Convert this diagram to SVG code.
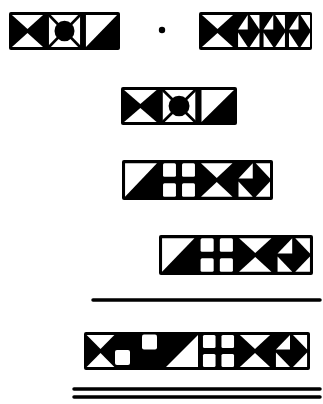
<svg xmlns="http://www.w3.org/2000/svg" xmlns:xlink="http://www.w3.org/1999/xlink" width="323" height="404" viewBox="0 0 323 404">
<style>
.box{fill:#000;}
.w{fill:#fff;}
.rule{stroke:#000;stroke-width:3.5;stroke-linecap:round;}
</style>
<defs>
<symbol id="cx" viewBox="0 0 100 100" preserveAspectRatio="none">
<polygon class="w" points="8,8 92,8 50,45"/>
<polygon class="w" points="8,92 92,92 50,55"/>
</symbol>
<symbol id="co" viewBox="0 0 100 100" preserveAspectRatio="none">
<rect class="w" x="8" y="8" width="84" height="84" rx="3"/>
<path d="M8,8 L92,92 M92,8 L8,92" stroke="#000" stroke-width="7"/>
<circle cx="50" cy="50" r="27" fill="#000"/>
</symbol>
<symbol id="cd" viewBox="0 0 100 100" preserveAspectRatio="none">
<polygon class="w" points="8,8 92,8 8,92"/>
</symbol>
<symbol id="cp" viewBox="0 0 100 100" preserveAspectRatio="none">
<rect class="w" x="8" y="8" width="34" height="34" rx="4"/>
<rect class="w" x="58" y="8" width="34" height="34" rx="4"/>
<rect class="w" x="8" y="58" width="34" height="34" rx="4"/>
<rect class="w" x="58" y="58" width="34" height="34" rx="4"/>
</symbol>
<symbol id="ct" viewBox="0 0 100 100" preserveAspectRatio="none">
<polygon class="w" points="8,46 46,8 46,46"/>
<polygon class="w" points="54,8 92,8 92,46"/>
<polygon class="w" points="8,54 8,92 46,92"/>
<polygon class="w" points="54,92 92,54 92,92"/>
</symbol>
</defs>

<g id="box-a">
<rect class="box" x="9" y="12" width="111" height="38" rx="2"/>
<use xlink:href="#cx" x="9" y="12" width="37" height="38"/>
<use xlink:href="#co" x="46" y="12" width="37" height="38"/>
<use xlink:href="#cd" x="83" y="12" width="37" height="38"/>
</g>

<g id="dot">
<circle cx="162" cy="30" r="3.2" fill="#000"/>
</g>

<g id="box-b">
<rect class="box" x="199" y="12" width="113" height="38" rx="2"/>
<use xlink:href="#cx" x="199" y="12" width="37" height="38"/>
<use xlink:href="#ct" x="236" y="12" width="25.5" height="38"/>
<use xlink:href="#ct" x="261.5" y="12" width="25.5" height="38"/>
<use xlink:href="#ct" x="287" y="12" width="25" height="38"/>
</g>

<g id="box-c">
<rect class="box" x="121" y="87" width="116" height="38" rx="2"/>
<use xlink:href="#cx" x="121" y="87" width="38.7" height="38"/>
<use xlink:href="#co" x="159.7" y="87" width="38.7" height="38"/>
<use xlink:href="#cd" x="198.4" y="87" width="38.6" height="38"/>
</g>

<g id="box-d">
<rect class="box" x="122" y="160" width="151" height="40" rx="2"/>
<use xlink:href="#cd" x="122" y="160" width="38" height="40"/>
<use xlink:href="#cp" x="160" y="160" width="38" height="40"/>
<use xlink:href="#cx" x="198" y="160" width="37.5" height="40"/>
<use xlink:href="#ct" x="235.5" y="160" width="37.5" height="40"/>
</g>

<g id="box-e">
<rect class="box" x="159" y="235" width="154" height="40" rx="2"/>
<use xlink:href="#cd" x="159" y="235" width="38.5" height="40"/>
<use xlink:href="#cp" x="197.5" y="235" width="38.5" height="40"/>
<use xlink:href="#cx" x="236" y="235" width="38.5" height="40"/>
<use xlink:href="#ct" x="274.5" y="235" width="38.5" height="40"/>
</g>

<g id="rules">
<line class="rule" x1="93" y1="300" x2="320" y2="300"/>
<line class="rule" x1="74" y1="389" x2="320" y2="389"/>
<line class="rule" x1="74" y1="397" x2="320" y2="397"/>
</g>

<g id="box-f">
<rect class="box" x="84" y="332" width="226" height="38" rx="2"/>
<use xlink:href="#cx" x="84" y="332" width="33" height="38"/>
<rect class="w" x="115" y="350" width="15" height="15" rx="2"/>
<rect class="w" x="142" y="334.5" width="15" height="15" rx="2"/>
<polygon class="w" points="166,367 198,335 198,367"/>
<use xlink:href="#cp" x="200" y="332" width="37" height="38"/>
<use xlink:href="#cx" x="237" y="332" width="36" height="38"/>
<use xlink:href="#ct" x="273" y="332" width="37" height="38"/>
</g>
</svg>
